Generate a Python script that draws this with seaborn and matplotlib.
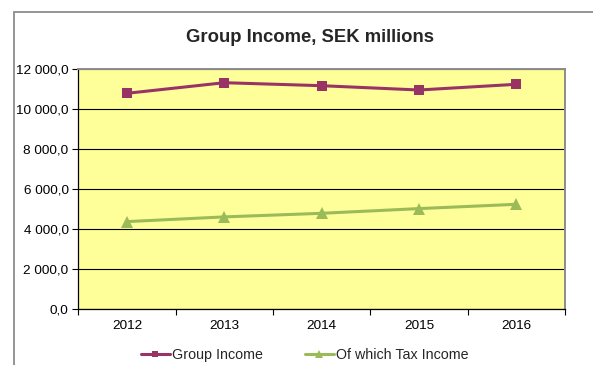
import matplotlib
matplotlib.use("Agg")
import matplotlib.pyplot as plt
import seaborn as sns
import pandas as pd
from matplotlib.ticker import FuncFormatter, FixedLocator
from matplotlib.patches import Rectangle
from matplotlib.lines import Line2D

years = ["2012", "2013", "2014", "2015", "2016"]
group_income = [10800, 11330, 11180, 10965, 11250]
tax_income = [4385, 4620, 4800, 5035, 5250]
series_names = ["Group Income", "Of which Tax Income"]

sns.set_style("white")
plt.rcParams["font.family"] = ["Liberation Sans", "DejaVu Sans"]

fig = plt.figure(figsize=(5.93, 3.65), dpi=100)
ax = fig.add_axes([78.3/593, 1 - 309.3/365, (565 - 78.3)/593, (309.3 - 69.3)/365])
ax.set_facecolor("#FFFF99")

idx = list(range(len(years)))
df = pd.DataFrame({"idx": idx, "g": group_income, "t": tax_income})

sns.lineplot(data=df, x="idx", y="g", ax=ax, color="#993366", lw=2.2,
             marker="s", markersize=6.5, markeredgewidth=0, zorder=4)
sns.lineplot(data=df, x="idx", y="t", ax=ax, color="#9BBB59", lw=2.2,
             marker="^", markersize=9, markeredgewidth=0, zorder=4)

ax.set_xlim(-0.5, len(years) - 0.5)
ax.set_ylim(0, 12000)
ax.set_yticks(range(0, 12001, 2000))
ax.yaxis.set_major_formatter(FuncFormatter(
    lambda v, p: f"{v:,.1f}".replace(",", " ").replace(".", ",")))
ax.set_xticks(idx)
ax.set_xticklabels(years)
ax.xaxis.set_minor_locator(FixedLocator([i - 0.5 for i in range(len(years) + 1)]))
ax.tick_params(axis="x", which="major", length=0, pad=8, labelsize=9.7, colors="black")
ax.tick_params(axis="x", which="minor", length=4, width=0.8, direction="out", bottom=True, color="black")
ax.tick_params(axis="y", which="major", length=4, width=0.8, direction="out", left=True,
               labelsize=9.7, pad=3, colors="black")
ax.set_xlabel("")
ax.set_ylabel("")

ax.yaxis.grid(True, color="black", lw=0.8)
ax.set_axisbelow(True)
for s in ["left", "bottom"]:
    ax.spines[s].set_color("black")
    ax.spines[s].set_linewidth(0.9)
for s in ["top", "right"]:
    ax.spines[s].set_color("#8C8C8C")
    ax.spines[s].set_linewidth(1.4)
    ax.spines[s].set_visible(True)

fig.text(310/593, 1 - 37.5/365, "Group Income, SEK millions", ha="center", va="center",
         fontsize=13.3, fontweight="bold")

# outer chart border
fig.patches.append(Rectangle((14/593, -0.1), 1.2, 1 - 12/365 + 0.1,
                             transform=fig.transFigure, fill=False,
                             edgecolor="#8C8C8C", lw=1.3))

handles = [
    Line2D([], [], color="#993366", lw=2.2, marker="s", markersize=4.5, markeredgewidth=0),
    Line2D([], [], color="#9BBB59", lw=2.2, marker="^", markersize=5.5, markeredgewidth=0),
]
fig.legend(handles, series_names, loc="center", bbox_to_anchor=(305/593, 1 - 355/365),
           ncol=2, frameon=False, fontsize=10.3, handlelength=2.0, handletextpad=0.2,
           columnspacing=2.9, borderpad=0, borderaxespad=0)

fig.savefig("out.png", dpi=100)
